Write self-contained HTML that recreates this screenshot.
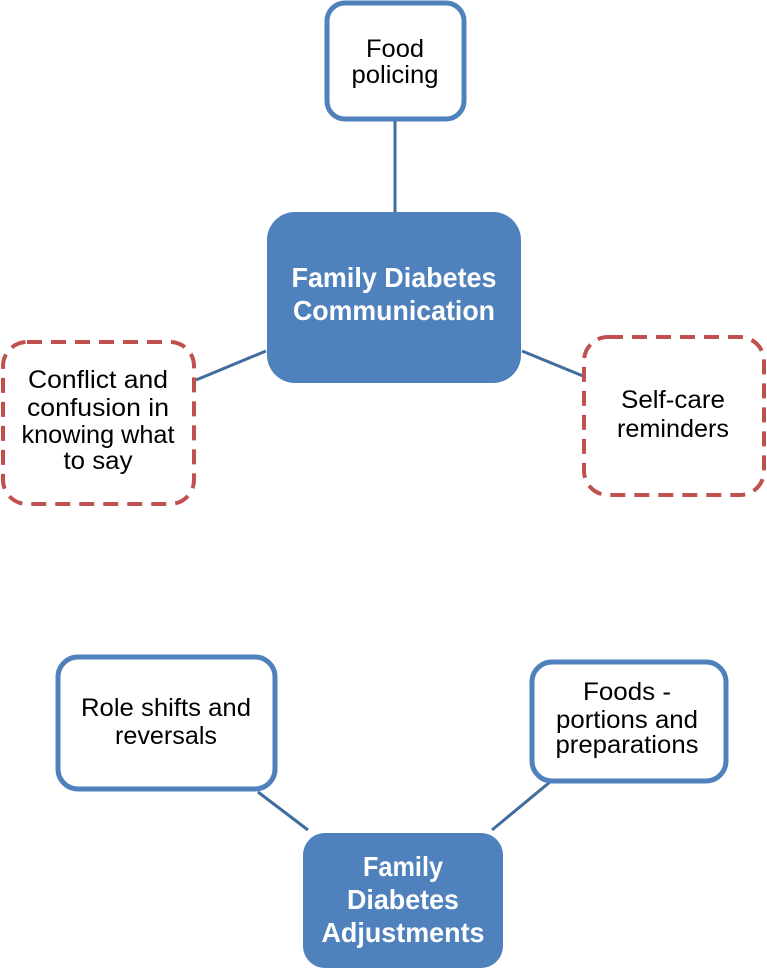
<!DOCTYPE html>
<html><head><meta charset="utf-8"><style>
html,body{margin:0;padding:0;background:#fff;}
svg{display:block;}
.t{font-family:"Liberation Sans",Arial,sans-serif;font-size:25px;fill:#000;text-anchor:middle;}
.b{font-family:"Liberation Sans",Arial,sans-serif;font-size:28px;font-weight:bold;fill:#fff;text-anchor:middle;}
</style></head><body>
<svg width="767" height="974" viewBox="0 0 767 974" xmlns="http://www.w3.org/2000/svg">
<g stroke="#3f6e9e" stroke-width="3" fill="none">
<line x1="395" y1="120" x2="395" y2="212"/>
<line x1="196" y1="380" x2="266" y2="351"/>
<line x1="522" y1="351" x2="583" y2="376"/>
<line x1="258" y1="792" x2="308" y2="830"/>
<line x1="550" y1="782" x2="492" y2="830"/>
</g>
<rect x="327" y="3" width="137" height="116" rx="18" fill="#fff" stroke="#4f81bd" stroke-width="5"/>
<text class="t" x="395" y="57" textLength="58" lengthAdjust="spacingAndGlyphs">Food</text>
<text class="t" x="395" y="83" textLength="87" lengthAdjust="spacingAndGlyphs">policing</text>

<rect x="267" y="212" width="254" height="171" rx="28" fill="#4f81bd"/>
<text class="b" x="394" y="287" textLength="205" lengthAdjust="spacingAndGlyphs">Family Diabetes</text>
<text class="b" x="394" y="320" textLength="202" lengthAdjust="spacingAndGlyphs">Communication</text>

<rect x="3" y="342" width="191" height="162" rx="24" fill="#fff" stroke="#c0504d" stroke-width="4" stroke-dasharray="15 9"/>
<text class="t" x="98" y="388" textLength="140" lengthAdjust="spacingAndGlyphs">Conflict and</text>
<text class="t" x="98" y="416" textLength="142" lengthAdjust="spacingAndGlyphs">confusion in</text>
<text class="t" x="98" y="443" textLength="153" lengthAdjust="spacingAndGlyphs">knowing what</text>
<text class="t" x="98" y="469" textLength="69" lengthAdjust="spacingAndGlyphs">to say</text>

<rect x="584" y="337" width="180" height="158" rx="24" fill="#fff" stroke="#c0504d" stroke-width="4" stroke-dasharray="15 9"/>
<text class="t" x="673" y="408" textLength="104" lengthAdjust="spacingAndGlyphs">Self-care</text>
<text class="t" x="673" y="437" textLength="112" lengthAdjust="spacingAndGlyphs">reminders</text>

<rect x="58" y="657" width="217" height="132" rx="20" fill="#fff" stroke="#4f81bd" stroke-width="5"/>
<text class="t" x="166" y="716" textLength="170" lengthAdjust="spacingAndGlyphs">Role shifts and</text>
<text class="t" x="166" y="744" textLength="102" lengthAdjust="spacingAndGlyphs">reversals</text>

<rect x="532" y="662" width="194" height="119" rx="20" fill="#fff" stroke="#4f81bd" stroke-width="5"/>
<text class="t" x="627" y="700" textLength="88" lengthAdjust="spacingAndGlyphs">Foods -</text>
<text class="t" x="627" y="728" textLength="142" lengthAdjust="spacingAndGlyphs">portions and</text>
<text class="t" x="627" y="753" textLength="143" lengthAdjust="spacingAndGlyphs">preparations</text>

<rect x="303" y="833" width="200" height="135" rx="22" fill="#4f81bd"/>
<text class="b" x="403" y="876" textLength="80" lengthAdjust="spacingAndGlyphs">Family</text>
<text class="b" x="403" y="909" textLength="112" lengthAdjust="spacingAndGlyphs">Diabetes</text>
<text class="b" x="403" y="942" textLength="163" lengthAdjust="spacingAndGlyphs">Adjustments</text>
</svg>
</body></html>
